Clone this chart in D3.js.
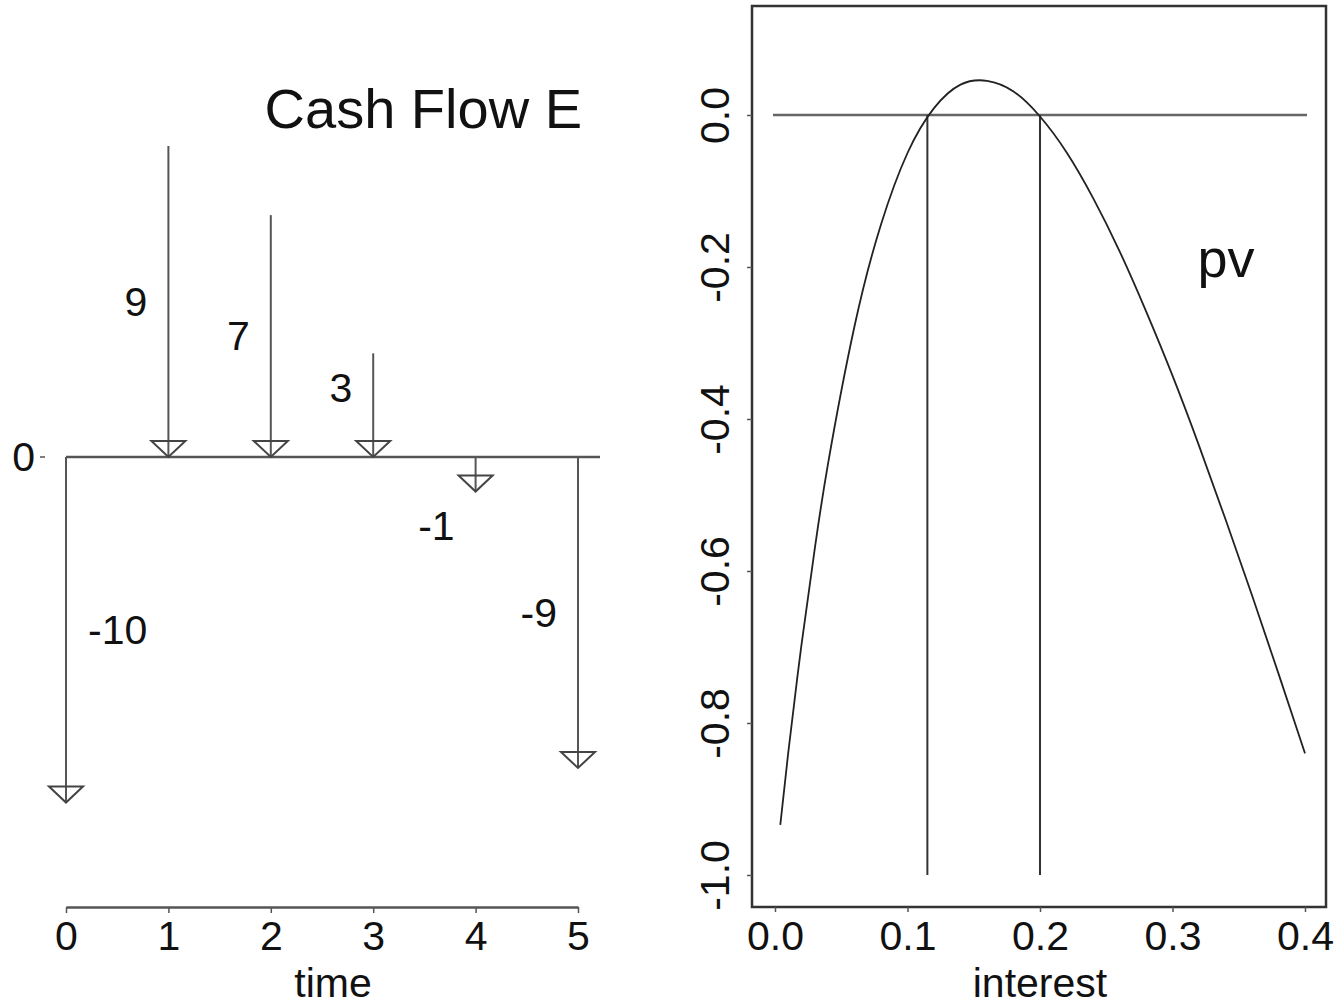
<!DOCTYPE html>
<html>
<head>
<meta charset="utf-8">
<script src="https://cdn.jsdelivr.net/npm/d3@7"></script>
<style>
  body { margin: 0; background: #fff; }
  text { font-family: "Liberation Sans", Arial, sans-serif; fill: #111; }
</style>
</head>
<body>
<div id="chart"></div>
<script>
// cash flow E
var times = [0, 1, 2, 3, 4, 5];
var flows = [-10, 9, 7, 3, -1, -9];
var flowLabels = ["-10", "9", "7", "3", "-1", "-9"];

// present value curve
var interest = [0.004, 0.01, 0.02, 0.03, 0.04, 0.06, 0.08, 0.10, 0.12, 0.14, 0.16, 0.18,
  0.20, 0.22, 0.24, 0.26, 0.28, 0.30, 0.32, 0.34, 0.36, 0.38, 0.40];
var pv = [-0.934, -0.839, -0.697, -0.571, -0.459, -0.278, -0.144, -0.050, 0.009, 0.040, 0.045, 0.031,
  -0.002, -0.049, -0.109, -0.179, -0.258, -0.343, -0.435, -0.532, -0.632, -0.735, -0.840];
var roots = [0.115, 0.2];

var xTicksRight = [0, 0.1, 0.2, 0.3, 0.4];
var yTicksRight = [0, -0.2, -0.4, -0.6, -0.8, -1.0];

var svgWidth = 1339;
var svgHeight = 1006;

var svg = d3.select("#chart")
  .append("svg")
  .attr("width", svgWidth)
  .attr("height", svgHeight);

var lineCol = "#555";
// plain hyphen for negatives, like the original plot
var fmt1 = d => d3.format(".1f")(d).replace("\u2212", "-");

// ---------- left panel ----------
var xLeft = d3.scaleLinear().domain([0, 5]).range([66, 578]);
var yLeft = d3.scaleLinear().domain([0, 9]).range([457, 146]);

var left = svg.append("g");

// zero line
left.append("line")
  .attr("x1", xLeft(0)).attr("x2", 600)
  .attr("y1", yLeft(0)).attr("y2", yLeft(0))
  .attr("stroke", lineCol).attr("stroke-width", 2.5);

// "0" tick on the left
left.append("line")
  .attr("x1", 40).attr("x2", 45)
  .attr("y1", yLeft(0)).attr("y2", yLeft(0))
  .attr("stroke", lineCol).attr("stroke-width", 1.5);
left.append("text")
  .attr("x", 35).attr("y", yLeft(0))
  .attr("text-anchor", "end")
  .attr("dominant-baseline", "central")
  .attr("font-size", 41)
  .text("0");

// arrows
var arrows = left.selectAll("g.arrow")
  .data(times.map(function(t, i) { return {t: t, v: flows[i], label: flowLabels[i]}; }))
  .enter()
  .append("g")
  .attr("class", "arrow");

arrows.append("line")
  .attr("x1", d => xLeft(d.t)).attr("x2", d => xLeft(d.t))
  .attr("y1", d => yLeft(Math.max(d.v, 0)))
  .attr("y2", d => yLeft(Math.min(d.v, 0)))
  .attr("stroke", lineCol).attr("stroke-width", 2);

arrows.append("path")
  .attr("d", function(d) {
    var x = xLeft(d.t), y = yLeft(Math.min(d.v, 0));
    return "M" + (x - 17) + "," + (y - 16) + "L" + (x + 17) + "," + (y - 16) + "L" + x + "," + y + "Z";
  })
  .attr("fill", "none")
  .attr("stroke", "#444").attr("stroke-width", 2);

arrows.append("text")
  .attr("x", d => d.t === 0 ? xLeft(d.t) + 22 : xLeft(d.t) - 21)
  .attr("y", d => yLeft((d.v > 0 ? 1 : -1) * Math.max(Math.abs(d.v) / 2, 2)))
  .attr("text-anchor", d => d.t === 0 ? "start" : "end")
  .attr("dominant-baseline", "central")
  .attr("font-size", 41)
  .text(d => d.label);

// time axis
var timeAxis = left.append("g")
  .attr("transform", "translate(0,907)")
  .call(d3.axisBottom(xLeft).tickValues(times).tickFormat(d3.format("d"))
    .tickSize(6).tickSizeOuter(0).tickPadding(8));
timeAxis.select(".domain").attr("stroke", lineCol).attr("stroke-width", 2.5);
timeAxis.selectAll(".tick line").attr("stroke", lineCol).attr("stroke-width", 1.5);
timeAxis.selectAll(".tick text")
  .attr("font-size", 41)
  .attr("font-family", "Liberation Sans, Arial, sans-serif")
  .attr("fill", "#111");

left.append("text")
  .attr("x", 333).attr("y", 983)
  .attr("text-anchor", "middle")
  .attr("dominant-baseline", "central")
  .attr("font-size", 41)
  .text("time");

left.append("text")
  .attr("x", 582).attr("y", 108)
  .attr("text-anchor", "end")
  .attr("dominant-baseline", "central")
  .attr("font-size", 56)
  .text("Cash Flow E");

// ---------- right panel ----------
var xRight = d3.scaleLinear().domain([0, 0.4]).range([775, 1305]);
var yRight = d3.scaleLinear().domain([-1, 0]).range([875, 115]);

var right = svg.append("g");

right.append("rect")
  .attr("x", 752).attr("y", 6)
  .attr("width", 1326 - 752).attr("height", 907 - 6)
  .attr("fill", "none")
  .attr("stroke", "#333").attr("stroke-width", 2.5);

var xAxisR = right.append("g")
  .attr("transform", "translate(0,907)")
  .call(d3.axisBottom(xRight).tickValues(xTicksRight).tickFormat(fmt1)
    .tickSize(5).tickSizeOuter(0).tickPadding(9));
xAxisR.select(".domain").remove();
xAxisR.selectAll(".tick line").attr("stroke", lineCol).attr("stroke-width", 1.5);
xAxisR.selectAll(".tick text")
  .attr("font-size", 41)
  .attr("font-family", "Liberation Sans, Arial, sans-serif")
  .attr("fill", "#111");

var yAxisR = right.append("g")
  .attr("transform", "translate(752,0)")
  .call(d3.axisLeft(yRight).tickValues(yTicksRight).tickFormat(fmt1)
    .tickSize(5).tickSizeOuter(0).tickPadding(0));
yAxisR.select(".domain").remove();
yAxisR.selectAll(".tick line").attr("stroke", lineCol).attr("stroke-width", 1.5);
yAxisR.selectAll(".tick text")
  .attr("font-size", 41)
  .attr("font-family", "Liberation Sans, Arial, sans-serif")
  .attr("fill", "#111")
  .attr("x", 0).attr("dy", null)
  .attr("text-anchor", "middle")
  .attr("dominant-baseline", "central")
  .attr("transform", "translate(-37,0) rotate(-90)");

right.append("text")
  .attr("x", 1040).attr("y", 983)
  .attr("text-anchor", "middle")
  .attr("dominant-baseline", "central")
  .attr("font-size", 41)
  .text("interest");

// zero line
right.append("line")
  .attr("x1", xRight(0) - 2).attr("x2", xRight(0.4) + 2)
  .attr("y1", yRight(0)).attr("y2", yRight(0))
  .attr("stroke", "#666").attr("stroke-width", 2.5);

// roots
right.selectAll("line.root")
  .data(roots)
  .enter()
  .append("line")
  .attr("class", "root")
  .attr("x1", d => xRight(d)).attr("x2", d => xRight(d))
  .attr("y1", yRight(-1)).attr("y2", yRight(0))
  .attr("stroke", "#333").attr("stroke-width", 2);

// pv curve
var line = d3.line()
  .x(d => xRight(d[0]))
  .y(d => yRight(d[1]))
  .curve(d3.curveNatural);

right.append("path")
  .datum(interest.map((r, i) => [r, pv[i]]))
  .attr("d", line)
  .attr("fill", "none")
  .attr("stroke", "#222").attr("stroke-width", 1.8);

right.append("text")
  .attr("x", 1226).attr("y", 258)
  .attr("text-anchor", "middle")
  .attr("dominant-baseline", "central")
  .attr("font-size", 54)
  .text("pv");
</script>
</body>
</html>
